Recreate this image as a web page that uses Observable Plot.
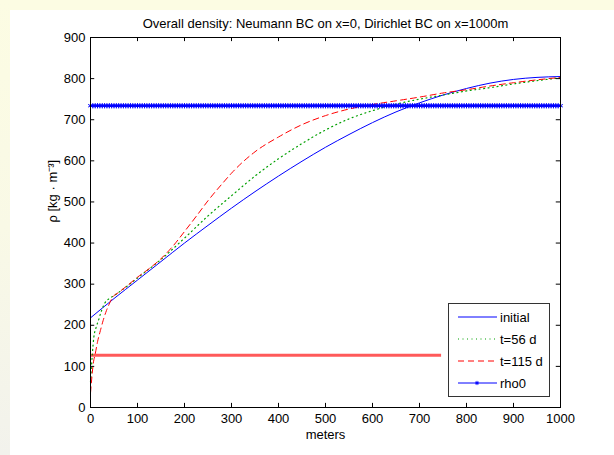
<!DOCTYPE html>
<html>
<head>
<meta charset="utf-8">
<script src="https://cdn.jsdelivr.net/npm/d3@7"></script>
<script src="https://cdn.jsdelivr.net/npm/@observablehq/plot@0.6"></script>
<style>
  body { margin: 0; background: #ffffff; }
  #wrap { position: relative; width: 614px; height: 455px; overflow: hidden; background: #ffffff; }
  #topStrip { position: absolute; left: 0; top: 0; width: 614px; height: 10px; background: #fcfce3; }
  #leftStrip { position: absolute; left: 0; top: 0; width: 10px; height: 455px; background: linear-gradient(#fcfce3, #f9f9e6 50%, #f2f2ec); }
  #chart { position: absolute; left: 0; top: 0; }
  #legend { position: absolute; left: 448px; top: 303px; width: 100px; height: 92px; border: 1px solid #333; background: #fff; }
</style>
</head>
<body>
<div id="wrap">
  <div id="topStrip"></div>
  <div id="leftStrip"></div>
  <div id="chart"></div>
  <div id="legend"></div>
</div>
<script>
// ---- data ----
const titleText = "Overall density: Neumann BC on x=0, Dirichlet BC on x=1000m";
const xLabelText = "meters";
const yLabelText = "ρ [kg · m⁻³]";
const xTicks = [0, 100, 200, 300, 400, 500, 600, 700, 800, 900, 1000];
const yTicks = [0, 100, 200, 300, 400, 500, 600, 700, 800, 900];

const initialX = [0, 50, 100, 150, 200, 250, 300, 350, 400, 450, 500, 550, 600, 650, 700, 750, 800, 850, 900, 950, 1000];
const initialY = [218, 265, 310, 355, 400, 443, 485, 525, 563, 599, 633, 664, 693, 719, 741, 760, 776, 789, 798, 803, 805];

const t56X = [0, 4, 7, 12, 17, 23, 30, 40, 50, 60, 80, 100, 150, 200, 250, 300, 350, 400, 450, 500, 550, 600, 650, 700, 750, 800, 850, 900, 950, 1000];
const t56Y = [62, 131, 170, 195, 212, 234, 253, 265, 272, 280, 297, 315, 360, 412, 466, 515, 563, 605, 642, 675, 702, 722, 738, 750, 760, 770, 778, 787, 795, 802];

const t115X = [0, 3, 6, 10, 15, 21, 27, 34, 40, 47, 60, 80, 100, 125, 150, 175, 200, 225, 250, 283, 300, 350, 400, 450, 500, 550, 600, 650, 700, 750, 800, 850, 900, 950, 1000];
const t115Y = [35, 75, 108, 130, 160, 187, 212, 236, 252, 268, 280, 298, 317, 338, 362, 392, 428, 465, 503, 548, 570, 622, 658, 688, 710, 726, 737, 746, 755, 765, 773, 782, 790, 797, 803];

const rho0Value = 734;
const rho0GridStep = 5;          // spacing of the model grid points carrying the rho0 markers
const lowLineValue = 127;        // thick red horizontal line
const lowLineEnd = 747;

const seriesNames = ["initial", "t=56 d", "t=115 d", "rho0"];

// ---- build tables ----
const toRows = (xs, ys) => xs.map((x, i) => ({x, y: ys[i]}));
const initial = toRows(initialX, initialY);
const t56 = toRows(t56X, t56Y);
const t115 = toRows(t115X, t115Y);
const rho0 = d3.range(0, 1000 + rho0GridStep, rho0GridStep).map(x => ({x, y: rho0Value}));
const lowLine = [{x1: 0, x2: lowLineEnd, y: lowLineValue}];

const font = "'Liberation Sans', Arial, Helvetica, sans-serif";
const fs = 13;

const chart = Plot.plot({
  width: 614,
  height: 455,
  marginLeft: 90,
  marginRight: 54,
  marginTop: 37,
  marginBottom: 48,
  style: {background: "transparent", fontFamily: font, fontSize: fs + "px", color: "black"},
  x: {domain: [0, 1000]},
  y: {domain: [0, 900]},
  marks: [
    Plot.ruleY(lowLine, {x1: "x1", x2: "x2", y: "y", stroke: "#ff5a5a", strokeWidth: 3}),
    Plot.line(initial, {x: "x", y: "y", stroke: "#0000ff", strokeWidth: 1, curve: "monotone-x"}),
    Plot.line(t56, {x: "x", y: "y", stroke: "#00a000", strokeWidth: 1.2, strokeDasharray: "1,3.5", curve: "monotone-x"}),
    Plot.line(t115, {x: "x", y: "y", stroke: "#ff0000", strokeWidth: 1, strokeDasharray: "6,4", curve: "monotone-x"}),
    Plot.line(rho0, {x: "x", y: "y", stroke: "#0000ff", strokeWidth: 1.5}),
    Plot.dot(rho0, {x: "x", y: "y", symbol: "asterisk", r: 2.5, stroke: "#0000ff", strokeWidth: 1}),
    Plot.frame({stroke: "black"}),
    Plot.ruleX(xTicks, {y1: 0, y2: 10, stroke: "black"}),
    Plot.ruleX(xTicks, {y1: 890, y2: 900, stroke: "black"}),
    Plot.ruleY(yTicks, {x1: 0, x2: 9, stroke: "black"}),
    Plot.ruleY(yTicks, {x1: 991, x2: 1000, stroke: "black"}),
    Plot.axisX(xTicks, {tickSize: 0, tickPadding: 6, label: null, fontSize: fs, tickFormat: d => String(d)}),
    Plot.axisY(yTicks, {tickSize: 0, tickPadding: 5, label: null, fontSize: fs, tickFormat: d => String(d)}),
    Plot.text([xLabelText], {text: d => d, frameAnchor: "bottom", dy: 31, fontSize: fs}),
    Plot.text([yLabelText], {text: d => d, frameAnchor: "left", dx: -38, rotate: -90, fontSize: fs}),
    Plot.text([titleText], {text: d => d, frameAnchor: "top", dy: -19, fontSize: fs})
  ]
});
document.getElementById("chart").appendChild(chart);

// ---- legend (inside the axes, as in the reference) ----
const lg = d3.select("#legend").append("svg").attr("width", 100).attr("height", 92);
const styles = [
  {stroke: "#0000ff", dash: null, w: 1, marker: false},
  {stroke: "#00a000", dash: "1,3.5", w: 1.2, marker: false},
  {stroke: "#ff0000", dash: "6,4", w: 1, marker: false},
  {stroke: "#0000ff", dash: null, w: 1, marker: true}
];
seriesNames.forEach((name, i) => {
  const cy = 13 + i * 22;
  const s = styles[i];
  lg.append("line").attr("x1", 9).attr("x2", 48).attr("y1", cy).attr("y2", cy)
    .attr("stroke", s.stroke).attr("stroke-width", s.w).attr("stroke-dasharray", s.dash);
  if (s.marker) {
    lg.append("path").attr("d", d3.symbol(d3.symbolAsterisk, 12)()).attr("transform", `translate(28,${cy})`)
      .attr("stroke", s.stroke).attr("fill", "none");
  }
  lg.append("text").attr("x", 51).attr("y", cy).attr("dy", "0.35em")
    .attr("font-family", font).attr("font-size", fs).text(name);
});
</script>
</body>
</html>
